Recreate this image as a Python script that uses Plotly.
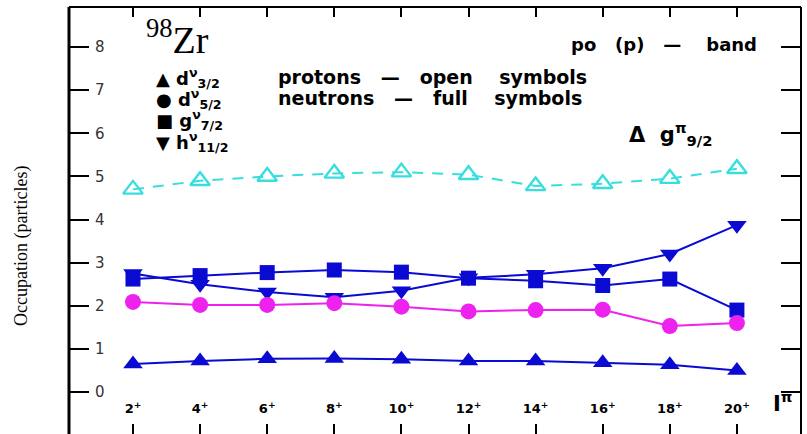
import plotly.graph_objects as go

# ---- data ----
spins = [2, 4, 6, 8, 10, 12, 14, 16, 18, 20]
spin_labels = ["2<sup>+</sup>", "4<sup>+</sup>", "6<sup>+</sup>", "8<sup>+</sup>", "10<sup>+</sup>",
               "12<sup>+</sup>", "14<sup>+</sup>", "16<sup>+</sup>", "18<sup>+</sup>", "20<sup>+</sup>"]
g92_proton = [4.70, 4.90, 5.00, 5.07, 5.10, 5.04, 4.78, 4.83, 4.95, 5.18]
g72_neutron = [2.62, 2.70, 2.77, 2.83, 2.78, 2.64, 2.58, 2.47, 2.62, 1.90]
h112_neutron = [2.75, 2.50, 2.32, 2.20, 2.35, 2.65, 2.73, 2.87, 3.20, 3.87]
d52_neutron = [2.09, 2.02, 2.02, 2.06, 1.98, 1.87, 1.90, 1.91, 1.53, 1.60]
d32_neutron = [0.65, 0.72, 0.77, 0.78, 0.76, 0.72, 0.72, 0.68, 0.63, 0.50]
y_ticks = [0, 1, 2, 3, 4, 5, 6, 7, 8]

W, H = 807, 434
ML, MR, MT, MB = 69, 6, 7, 0
PW, PH = W - ML - MR, H - MT - MB
XR = [0.093, 21.91]
YR = [-0.974, 8.93]


def px(x):
    return (x - ML) / PW


def py(y):
    return (H - MB - y) / PH


BLUE = "#0a0ad2"
fig = go.Figure()

fig.add_trace(go.Scatter(x=spins, y=g92_proton, mode="lines+markers",
                         line=dict(color="#38dede", width=2, dash="11px,9px"),
                         marker=dict(symbol="triangle-up-open", size=17, color="#38dede",
                                     line=dict(width=2.4, color="#38dede"))))
fig.add_trace(go.Scatter(x=spins, y=h112_neutron, mode="lines+markers",
                         line=dict(color=BLUE, width=2),
                         marker=dict(symbol="triangle-down", size=17, color=BLUE)))
fig.add_trace(go.Scatter(x=spins, y=g72_neutron, mode="lines+markers",
                         line=dict(color=BLUE, width=2),
                         marker=dict(symbol="square", size=15, color=BLUE)))
fig.add_trace(go.Scatter(x=spins, y=d52_neutron, mode="lines+markers",
                         line=dict(color="#ee22ee", width=2),
                         marker=dict(symbol="circle", size=16, color="#ee22ee")))
fig.add_trace(go.Scatter(x=spins, y=d32_neutron, mode="lines+markers",
                         line=dict(color=BLUE, width=2),
                         marker=dict(symbol="triangle-up", size=17, color=BLUE)))

# frame (left thick, top, right)
fig.add_shape(type="line", xref="paper", yref="paper", x0=0, x1=0, y0=0, y1=1,
              line=dict(color="black", width=3))
fig.add_shape(type="line", xref="paper", yref="paper", x0=0, x1=1, y0=1, y1=1,
              line=dict(color="black", width=2))
fig.add_shape(type="line", xref="paper", yref="paper", x0=1, x1=1, y0=0, y1=1,
              line=dict(color="black", width=2))

SANS = "DejaVu Sans"
ann = []
ann.append(dict(x=px(144), y=py(37), xref="paper", yref="paper", xanchor="left", yanchor="middle",
                text="<sup>98</sup>Zr", showarrow=False,
                font=dict(family="Liberation Serif", size=38, color="black")))
rows = [("▲", "d<sup>ν</sup><sub>3/2</sub>", 78),
        ("●", "d<sup>ν</sup><sub>5/2</sub>", 99),
        ("■", "g<sup>ν</sup><sub>7/2</sub>", 120),
        ("▼", "h<sup>ν</sup><sub>11/2</sub>", 142)]
for sym, lab, yy in rows:
    ann.append(dict(x=px(154), y=py(yy), xref="paper", yref="paper", xanchor="left", yanchor="middle",
                    text="<b>" + sym + " " + lab + "</b>", showarrow=False,
                    font=dict(family=SANS, size=18, color="black")))
ann.append(dict(x=px(276), y=py(77), xref="paper", yref="paper", xanchor="left", yanchor="middle",
                text="<b>protons   —   open    symbols</b>", showarrow=False,
                font=dict(family=SANS, size=19, color="black")))
ann.append(dict(x=px(276), y=py(98), xref="paper", yref="paper", xanchor="left", yanchor="middle",
                text="<b>neutrons   —   full    symbols</b>", showarrow=False,
                font=dict(family=SANS, size=19, color="black")))
ann.append(dict(x=px(569), y=py(45), xref="paper", yref="paper", xanchor="left", yanchor="middle",
                text="<b>po   (p)   —    band</b>", showarrow=False,
                font=dict(family=SANS, size=18, color="black")))
ann.append(dict(x=px(627), y=py(134), xref="paper", yref="paper", xanchor="left", yanchor="middle",
                text="<b>Δ  g<sup>π</sup><sub>9/2</sub></b>", showarrow=False,
                font=dict(family=SANS, size=21, color="black")))
ann.append(dict(x=px(771), y=py(402), xref="paper", yref="paper", xanchor="left", yanchor="middle",
                text="<b>I<sup>π</sup></b>", showarrow=False,
                font=dict(family=SANS, size=21, color="black")))
ann.append(dict(x=px(22), y=py(246), xref="paper", yref="paper", xanchor="center", yanchor="middle",
                text="Occupation (particles)", textangle=-90, showarrow=False,
                font=dict(family="Liberation Serif", size=18, color="black")))

common_tick = dict(tickwidth=1.5, tickcolor="black", showgrid=False, zeroline=False,
                   showline=False, automargin=False)

fig.update_layout(
    width=W, height=H, margin=dict(l=ML, r=MR, t=MT, b=MB, pad=0, autoexpand=False),
    paper_bgcolor="white", plot_bgcolor="white", showlegend=False,
    annotations=ann,
    xaxis=dict(range=XR, tickvals=spins, ticktext=spin_labels,
               ticks="inside", ticklen=10,
               ticklabelposition="inside", ticklabelstandoff=8,
               tickfont=dict(family=SANS, size=13, color="black", weight="bold"), **common_tick),
    xaxis2=dict(range=XR, tickvals=spins, overlaying="x", side="top", matches="x",
                ticks="inside", ticklen=10, showticklabels=False, **common_tick),
    yaxis=dict(range=YR, tickvals=y_ticks,
               ticks="inside", ticklen=20,
               ticklabelposition="inside", ticklabelstandoff=6,
               tickfont=dict(family=SANS, size=15, color="#333333"), **common_tick),
    yaxis2=dict(range=YR, tickvals=y_ticks, overlaying="y", side="right", matches="y",
                ticks="inside", ticklen=20, showticklabels=False, **common_tick),
)
# invisible trace to activate the mirrored tick axes
fig.add_trace(go.Scatter(x=[spins[0]], y=[y_ticks[0]], xaxis="x2", yaxis="y2",
                         mode="markers", marker=dict(opacity=0), hoverinfo="skip"))

fig.write_html("out.html", config={"displayModeBar": False},
               post_script="document.body.style.margin='0';document.body.style.padding='0';")
